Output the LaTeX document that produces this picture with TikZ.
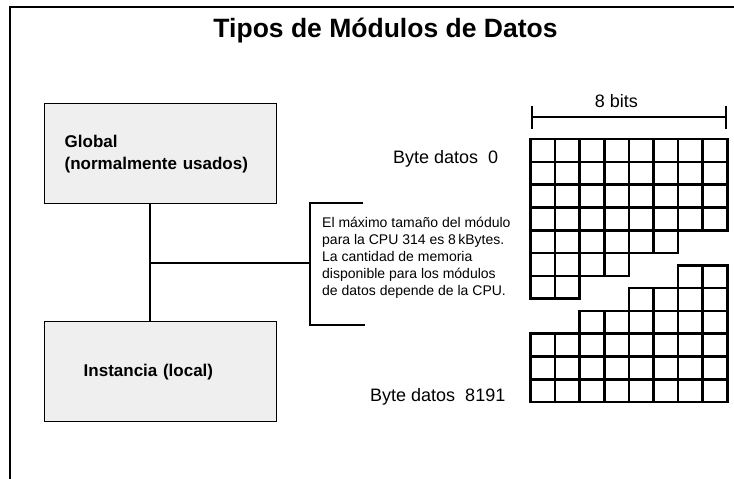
\documentclass[tikz,border=0pt]{standalone}
\usepackage{fontspec}
\setmainfont{Liberation Sans}
\usepackage{tikz}
\usetikzlibrary{arrows.meta, positioning}
\definecolor{boxgray}{HTML}{EFEFEF}

\begin{document}
\begin{tikzpicture}[
    x=1pt, y=-1pt,
    module/.style={rectangle, draw, line width=1.4pt, fill=boxgray, minimum width=232pt, minimum height=100pt, text width=192pt, inner xsep=20pt, align=left, font=\fontsize{17}{22}\selectfont\bfseries},
    line/.style={draw, line width=1.5pt},
    cell/.style={draw, line width=2.6pt},
    label/.style={anchor=base west, inner sep=0pt, font=\fontsize{18}{22}\selectfont}
]
\useasboundingbox (0,0) rectangle (734,479);

% Frame
\draw[line width=2pt] (10,479) -- (10,7) -- (734,7);

% Nodes
\node[anchor=base, inner sep=0pt, font=\fontsize{26.5}{30}\selectfont\bfseries] (title) at (385.5,37) {Tipos de Módulos de Datos};
\node[module, anchor=north west] (global) at (44,103) {Global\\(normalmente usados)};
\node[module, anchor=north west] (instancia) at (44,321) {\hspace*{19pt}Instancia (local)};
\node[anchor=base west, inner sep=0pt, align=left, font=\fontsize{14}{16.8}\selectfont] (nota) at (322,295) {El máximo tamaño del módulo\\para la CPU 314 es 8\,kBytes.\\La cantidad de memoria\\disponible para los módulos\\de datos depende de la CPU.};
\node[label] (byte0) at (393,163) {Byte datos\ \ 0};
\node[label] (byteN) at (370,401) {Byte datos\ \ 8191};
\node[anchor=base, inner sep=0pt, font=\fontsize{18}{22}\selectfont] (bits) at (616.5,107) {8 bits};

% Paths
\coordinate (trunk) at (150,263);
\coordinate (brtop) at (310,203);
\coordinate (brbot) at (310,325);
\path[line] (global.south -| trunk) -- (instancia.north -| trunk);
\path[line] (trunk) -- (brtop |- trunk);
\path[line] (brtop) ++(53,0) -- (brtop) -- (brbot) -- ++(55,0);

% 8 bits
\coordinate (bitsL) at (531,117);
\coordinate (bitsR) at (727,117);
\draw[line width=2pt, {Bar[width=23pt,line width=2pt]}-{Bar[width=23pt,line width=2pt]}] (bitsL) -- (bitsR);

% Memory cells
\foreach \r/\n in {0/8,1/8,2/8,3/8,4/6,5/4,6/2}
  \foreach \c in {1,...,\n}
    \draw[cell] ({530.5+(\c-1)*24.6},{139+\r*22.8}) rectangle ++(24.6,22.8);
\foreach \r/\n in {0/8,1/8,2/8,3/6,4/4,5/2}
  \foreach \c in {1,...,\n}
    \draw[cell] ({727.3-\c*24.6},{402-(\r+1)*22.8}) rectangle ++(24.6,22.8);

\end{tikzpicture}
\end{document}
